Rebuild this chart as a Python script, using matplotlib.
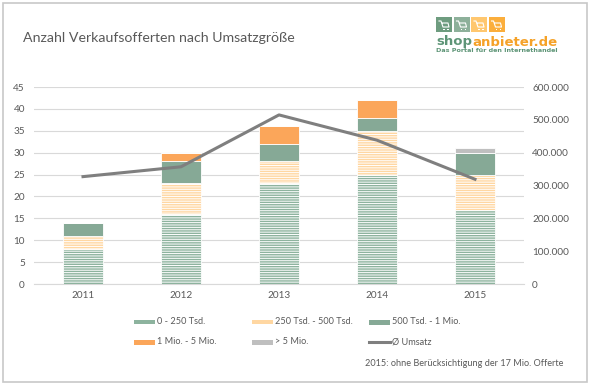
import matplotlib.pyplot as plt
from matplotlib.patches import Rectangle
from matplotlib.lines import Line2D

plt.rcParams['font.family'] = ['Lato', 'DejaVu Sans']
plt.rcParams['hatch.linewidth'] = 0.7

# Data
years = ['2011', '2012', '2013', '2014', '2015']
seg_0_250 = [8, 16, 23, 25, 17]
seg_250_500 = [3, 7, 5, 10, 8]
seg_500_1m = [3, 5, 4, 3, 5]
seg_1m_5m = [0, 2, 4, 4, 0]
seg_over_5m = [0, 0, 0, 0, 1]
avg_umsatz = [327000, 357000, 515000, 438000, 319000]

labels = ['0 - 250 Tsd.', '250 Tsd. - 500 Tsd.', '500 Tsd. - 1 Mio.',
          '1 Mio. - 5 Mio.', '> 5 Mio.', 'Ø Umsatz']

styles = [
    dict(color='#8DB39E', hatch='-------'),
    dict(color='#FFD7A2', hatch='-------'),
    dict(color='#86A996', hatch=None),
    dict(color='#FBA65A', hatch=None),
    dict(color='#BFBFBF', hatch=None),
]
line_color = '#7F7F7F'
text_color = '#595959'

W, H = 590, 385
fig = plt.figure(figsize=(W / 100, H / 100), dpi=100)


def fx(px):
    return px / W


def fy(py):
    return 1 - py / H


# chart frame
fig.patches.append(Rectangle((fx(3), fy(382)), fx(584), 379 / H, transform=fig.transFigure,
                             facecolor='white', edgecolor='#C8C8C8', linewidth=1.2))

ax = fig.add_axes([fx(34), fy(284), fx(490), 197 / H])
ax.set_zorder(2)
ax.patch.set_alpha(0)

x = range(len(years))
series = [seg_0_250, seg_250_500, seg_500_1m, seg_1m_5m, seg_over_5m]
bottom = [0] * len(years)
for vals, st in zip(series, styles):
    ax.bar(x, vals, width=0.41, bottom=bottom, color=st['color'], hatch=st['hatch'],
           edgecolor='white', linewidth=0.6, zorder=3)
    bottom = [b + v for b, v in zip(bottom, vals)]

ax.set_xlim(-0.5, 4.5)
ax.set_ylim(0, 45)
ax.set_yticks(range(0, 46, 5))
ax.set_xticks(list(x))
ax.set_xticklabels(years)
ax.grid(axis='y', color='#D9D9D9', linewidth=0.8, zorder=0)
ax.set_axisbelow(True)
for s in ax.spines.values():
    s.set_visible(False)
ax.spines['bottom'].set_visible(True)
ax.spines['bottom'].set_color('#D9D9D9')
ax.tick_params(length=0, labelsize=7.2, labelcolor=text_color)
ax.tick_params(axis='y', pad=6.5)
ax.tick_params(axis='x', pad=5)

ax2 = ax.twinx()
ax2.plot(list(x), avg_umsatz, color=line_color, linewidth=2.2, zorder=5)
ax2.set_ylim(0, 600000)
ax2.set_yticks(range(0, 600001, 100000))
ax2.set_yticklabels([f'{v:,}'.replace(',', '.') for v in range(0, 600001, 100000)])
for s in ax2.spines.values():
    s.set_visible(False)
ax2.tick_params(length=0, labelsize=7.2, labelcolor=text_color, pad=5.8)

# title
fig.text(fx(23), fy(38), 'Anzahl Verkaufsofferten nach Umsatzgröße', fontsize=10.2,
         color=text_color, va='center', ha='left')

# legend (manual, three equal columns)
col_x = [134, 252, 369]
row_y = [322, 342]
for i, lab in enumerate(labels):
    cx = col_x[i % 3]
    cy = row_y[i // 3]
    if i < 5:
        st = styles[i]
        hh = 4 if st['hatch'] else 5
        fig.patches.append(Rectangle((fx(cx), fy(cy + hh / 2)), fx(21), hh / H,
                                     transform=fig.transFigure, facecolor=st['color'],
                                     hatch='---' if st['hatch'] else None,
                                     edgecolor='white', linewidth=0))
    else:
        fig.lines.append(Line2D([fx(cx), fx(cx + 21)], [fy(cy), fy(cy)],
                                transform=fig.transFigure, color=line_color, linewidth=2.2))
    fig.text(fx(cx + 23), fy(cy), lab, fontsize=6.6, color=text_color, va='center', ha='left')

fig.text(fx(365), fy(364), '2015: ohne Berücksichtigung der 17 Mio. Offerte', fontsize=6.6,
         color=text_color, va='center', ha='left')

# logo
sq_colors = ['#6E9C7F', '#8DB09A', '#FFC76F', '#FBAE3C']
for i, c in enumerate(sq_colors):
    x0 = 436 + i * 17.5
    fig.patches.append(Rectangle((fx(x0), fy(32)), fx(16), 15 / H, transform=fig.transFigure,
                                 facecolor=c, edgecolor='none'))
    # simple cart glyph
    fig.lines.append(Line2D([fx(x0 + 3), fx(x0 + 5), fx(x0 + 7), fx(x0 + 13), fx(x0 + 12), fx(x0 + 6.5)],
                            [fy(21), fy(21), fy(27), fy(27), fy(23), fy(23)],
                            transform=fig.transFigure, color='white', linewidth=0.8))
    fig.patches.append(Rectangle((fx(x0 + 7), fy(30)), fx(1.5), 1.5 / H, transform=fig.transFigure,
                                 facecolor='white', edgecolor='none'))
    fig.patches.append(Rectangle((fx(x0 + 11), fy(30)), fx(1.5), 1.5 / H, transform=fig.transFigure,
                                 facecolor='white', edgecolor='none'))

t1 = fig.text(fx(436), fy(42), 'shop', fontsize=9.5, fontweight='bold', color='#5E9577',
              va='center', ha='left', family=['DejaVu Sans'])
fig.canvas.draw()
bb = t1.get_window_extent()
fig.text(bb.x1 / W, fy(42), 'anbieter.de', fontsize=9.5, fontweight='bold', color='#F5A228',
         va='center', ha='left', family=['DejaVu Sans'])
fig.text(fx(436), fy(51), 'Das Portal für den Internethandel', fontsize=4.6, fontweight='bold',
         color='#5E9577', va='center', ha='left', family=['DejaVu Sans'])

fig.savefig('out.png', dpi=100)
